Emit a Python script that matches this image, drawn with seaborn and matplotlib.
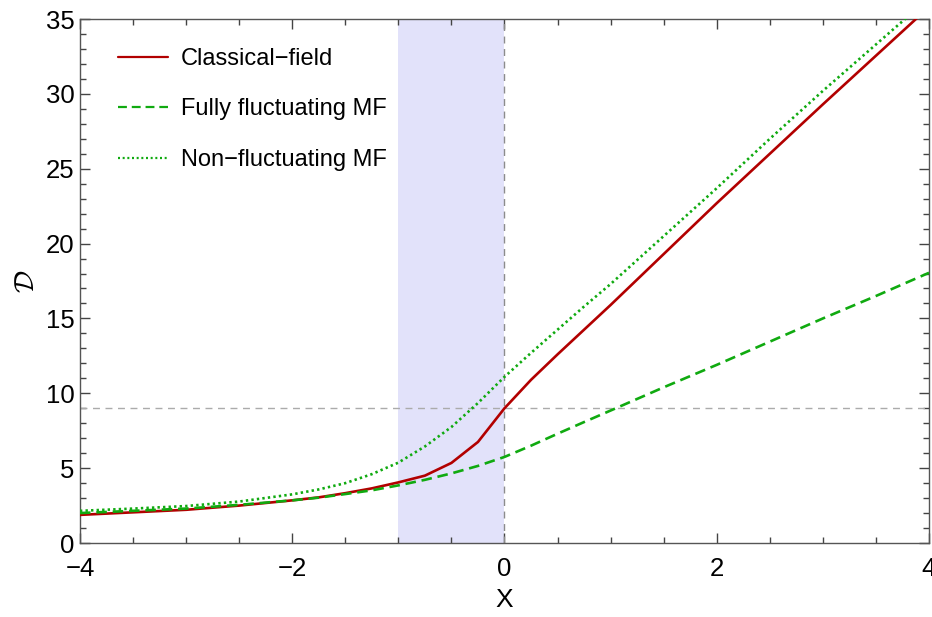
import numpy as np
import pandas as pd
import matplotlib
matplotlib.use("Agg")
import matplotlib.pyplot as plt
import seaborn as sns
from matplotlib.ticker import MultipleLocator

# Sample points (X, D) for each curve
x_vals = [-4.0, -3.5, -3.0, -2.5, -2.0, -1.75, -1.5, -1.25, -1.0, -0.75, -0.5, -0.25,
          0.0, 0.25, 0.5, 0.75, 1.0, 1.5, 2.0, 2.5, 3.0, 3.5, 4.0]
classical = [1.88, 2.05, 2.22, 2.5, 2.85, 3.05, 3.33, 3.65, 4.05, 4.5, 5.35, 6.75,
             9.0, 10.9, 12.6, 14.25, 15.9, 19.3, 22.7, 26.0, 29.3, 32.55, 35.8]
fully_fluct = [2.0, 2.15, 2.3, 2.55, 2.85, 3.03, 3.27, 3.52, 3.85, 4.22, 4.65, 5.15,
               5.75, 6.5, 7.3, 8.08, 8.85, 10.4, 11.9, 13.45, 15.0, 16.5, 18.05]
non_fluct = [2.15, 2.3, 2.47, 2.77, 3.25, 3.58, 4.0, 4.6, 5.37, 6.45, 7.75, 9.35,
             11.1, 12.7, 14.25, 15.8, 17.3, 20.5, 23.7, 27.0, 30.2, 33.3, 36.4]

labels = ["Classical\u2212field", "Fully fluctuating MF", "Non\u2212fluctuating MF"]
shade_range = (-1.0, 0.0)
ref_x = 0.0
ref_y = 9.0

sns.set_style("ticks")
plt.rcParams["font.family"] = ["Liberation Sans", "DejaVu Sans"]
plt.rcParams["mathtext.fontset"] = "cm"
plt.rcParams["text.color"] = "black"
plt.rcParams["axes.labelcolor"] = "black"

df = pd.concat([
    pd.DataFrame({"X": x_vals, "D": classical, "model": labels[0]}),
    pd.DataFrame({"X": x_vals, "D": fully_fluct, "model": labels[1]}),
    pd.DataFrame({"X": x_vals, "D": non_fluct, "model": labels[2]}),
])

fig = plt.figure(figsize=(9.32, 6.17), dpi=100)
ax = fig.add_axes([0.0858, 0.1199, 0.9110, 0.8493])

ax.axvspan(*shade_range, color="#E2E2FA", lw=0, zorder=0)
ax.axvline(ref_x, color="#8C8C8C", lw=1.0, ls=(0, (5, 4)), zorder=1)
ax.axhline(ref_y, color="#ABABAB", lw=1.0, ls=(0, (5, 4)), zorder=1)

red = "#B20000"
green = "#10AA10"
styles = {labels[0]: (red, "-"), labels[1]: (green, (0, (4, 2.2))), labels[2]: (green, (0, (0.9, 1.2)))}
for name in labels:
    col, ls = styles[name]
    sub = df[df["model"] == name]
    sns.lineplot(data=sub, x="X", y="D", ax=ax, color=col, lw=1.9, ls=ls,
                 label=name, sort=False, estimator=None, zorder=3)

ax.set_xlim(-4, 4)
ax.set_ylim(0, 35)
ax.xaxis.set_major_locator(MultipleLocator(2))
ax.xaxis.set_minor_locator(MultipleLocator(0.5))
ax.yaxis.set_major_locator(MultipleLocator(5))
ax.yaxis.set_minor_locator(MultipleLocator(1))
ax.tick_params(which="both", direction="in", top=True, right=True, colors="#444444",
               labelcolor="black", labelsize=18.5, width=1.0)
ax.tick_params(which="major", length=7)
ax.tick_params(which="minor", length=4)
ax.tick_params(axis="x", which="major", pad=10)
ax.tick_params(axis="y", which="major", pad=4)
for s in ax.spines.values():
    s.set_color("#555555")
    s.set_linewidth(1.0)

ax.set_xlabel("X", fontsize=19, labelpad=5)
ax.set_ylabel(r"$\mathcal{D}$", fontsize=20, labelpad=4)

leg = ax.legend(loc="upper left", bbox_to_anchor=(0.02, 0.985), frameon=False,
                fontsize=17, handlelength=2.1, handletextpad=0.55, labelspacing=1.2)
for h in leg.get_lines():
    h.set_linewidth(1.6)

fig.savefig("out.png", dpi=100)
